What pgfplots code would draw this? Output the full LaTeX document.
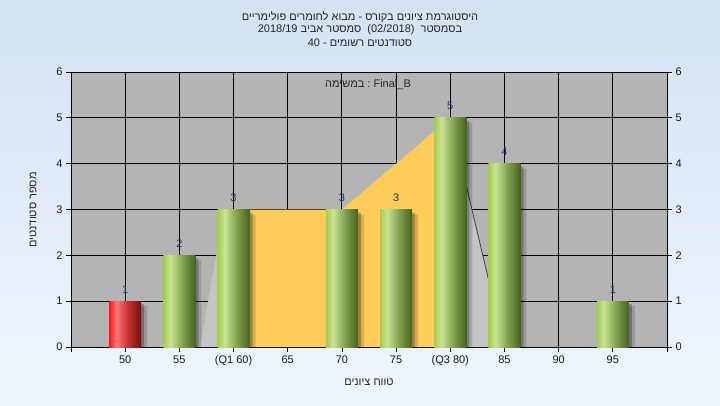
\documentclass[border=0pt]{standalone}
\usepackage{pgfplots}
\pgfplotsset{compat=1.18}
\usepackage{fontspec}
\setmainfont{Liberation Sans}
\newfontfamily\heb[Script=Hebrew]{Liberation Sans}
\TeXXeTstate=1

\definecolor{bgtop}{RGB}{212,226,244}
\definecolor{bgbot}{RGB}{240,246,253}
\definecolor{plotgray}{RGB}{180,180,180}
\definecolor{areayellow}{RGB}{255,204,90}
\definecolor{lightarea}{RGB}{196,196,196}
\definecolor{labelblue}{RGB}{30,60,110}
\definecolor{tickcol}{RGB}{25,25,35}
\definecolor{gL}{RGB}{164,206,76}
\definecolor{gH}{RGB}{202,227,148}
\definecolor{gM}{RGB}{128,160,80}
\definecolor{gD}{RGB}{72,98,32}
\definecolor{rL}{RGB}{255,20,20}
\definecolor{rH}{RGB}{255,120,120}
\definecolor{rM}{RGB}{190,50,50}
\definecolor{rD}{RGB}{120,15,15}

\pgfdeclarehorizontalshading{greenbar}{100bp}{color(0bp)=(gL); color(25bp)=(gL); color(36bp)=(gH); color(55bp)=(gM); color(75bp)=(gD); color(100bp)=(gD)}
\pgfdeclarehorizontalshading{redbar}{100bp}{color(0bp)=(rL); color(25bp)=(rL); color(36bp)=(rH); color(55bp)=(rM); color(75bp)=(rD); color(100bp)=(rD)}

\newcommand{\lbl}{\fontsize{11}{13}\selectfont}

\pgfplotsset{
  cylbar/.style={ybar, bar width=32pt, bar shift=0pt, draw=none, shade, shading=#1,
    nodes near coords,
    every node near coord/.style={font=\lbl, text=labelblue, anchor=base, yshift=8pt}},
  shadowbar/.style={ybar, bar width=32pt, draw=none, fill=black},
}

\begin{document}
\begin{tikzpicture}
\shade[top color=bgtop, bottom color=bgbot] (0pt,0pt) rectangle (720pt,405pt);

\begin{axis}[
  at={(71pt,58pt)}, anchor=south west,
  scale only axis, width=596pt, height=275pt,
  xmin=45, xmax=100, ymin=0, ymax=6,
  xtick={45,50,...,100},
  xticklabels={,50,55,(Q1 60),65,70,75,(Q3 80),85,90,95,},
  ytick={0,...,6},
  xtick pos=bottom, ytick pos=left,
  tick align=outside, major tick length=5pt,
  tick style={black, line width=0.8pt},
  grid=major, major grid style={black, line width=0.9pt},
  axis line style={black, line width=0.9pt},
  axis background/.style={fill=plotgray},
  ticklabel style={font=\lbl, text=tickcol},
  /pgf/number format/assume math mode=true,
]
% light grey areas behind
\addplot[fill=lightarea, draw=none] coordinates {
  (56.9,0) (58.4,2) (60,3) (60,0)
};
\addplot[fill=lightarea, draw=none] coordinates {
  (80,5) (85,0) (80,0)
};
% interquartile area
\addplot[fill=areayellow, draw=none] coordinates {
  (60,3) (65,3) (70,3) (75,4) (80,5)
} \closedcycle;
\addplot[color=black!75, line width=0.8pt] coordinates {(80,5) (85,0)};

% bar shadows
\addplot[shadowbar, bar shift=3pt, yshift=-3pt, fill opacity=0.25] coordinates {
  (50,1) (55,2) (60,3) (70,3) (75,3) (80,5) (85,4) (95,1)
};
\addplot[shadowbar, bar shift=6pt, yshift=-5pt, fill opacity=0.15] coordinates {
  (50,1) (55,2) (60,3) (70,3) (75,3) (80,5) (85,4) (95,1)
};

% bars, one plot each so that every bar gets its own shading
\addplot[cylbar=redbar] coordinates {(50,1)};
\addplot[cylbar=greenbar] coordinates {(55,2)};
\addplot[cylbar=greenbar] coordinates {(60,3)};
\addplot[cylbar=greenbar] coordinates {(70,3)};
\addplot[cylbar=greenbar] coordinates {(75,3)};
\addplot[cylbar=greenbar] coordinates {(80,5)};
\addplot[cylbar=greenbar] coordinates {(85,4)};
\addplot[cylbar=greenbar] coordinates {(95,1)};
\end{axis}

% right-hand tick labels
\begin{axis}[
  at={(71pt,58pt)}, anchor=south west,
  scale only axis, width=596pt, height=275pt,
  xmin=45, xmax=100, ymin=0, ymax=6,
  axis x line=none, axis y line*=right,
  ytick={0,...,6},
  tick align=outside, major tick length=5pt,
  tick style={black, line width=0.8pt},
  axis line style={black, line width=0.9pt},
  ticklabel style={font=\lbl, text=tickcol},
  /pgf/number format/assume math mode=true,
]
\addplot[draw=none] coordinates {(50,0)};
\end{axis}

% titles
\node[font=\lbl, text=black!85] at (360pt,388pt) {\heb\beginR היסטוגרמת ציונים בקורס - מבוא לחומרים פולימריים\endR};
\node[font=\lbl, text=black!85] at (360pt,375pt) {\heb\beginR בסמסטר\ \ \beginL(02/2018)\endL{}\ \ סמסטר אביב \beginL 2018/19\endL\endR};
\node[font=\lbl, text=black!85] at (360pt,362pt) {\heb\beginR סטודנטים רשומים - \beginL 40\endL\endR};

% label inside the plot
\node[font=\lbl, text=black!85] at (368pt,320pt) {\heb\beginR\beginL Final\_B\endL{} : במשימה\endR};

% axis labels
\node[font=\lbl, text=black!85] at (369pt,23pt) {\heb\beginR טווח ציונים\endR};
\node[font=\lbl, text=black!85, rotate=90] at (33pt,195pt) {\heb\beginR מספר סטודנטים\endR};
\end{tikzpicture}
\end{document}
